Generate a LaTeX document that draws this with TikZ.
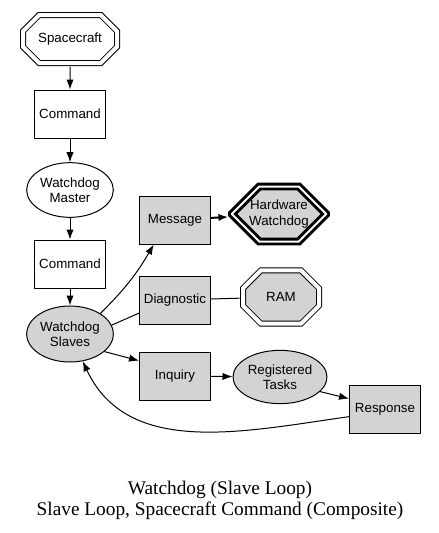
\documentclass[tikz,border=0pt]{standalone}
\usepackage{fontspec}
\setmainfont{Liberation Serif}
\newfontfamily\nodefont{Liberation Sans}
\usetikzlibrary{arrows.meta,shapes.misc,shapes.geometric}
\definecolor{gvgray}{HTML}{D3D3D3}
\begin{document}
\begin{tikzpicture}[x=0.75pt, y=-0.75pt, line width=0.75pt,
  >={Latex[length=7.5pt,width=5.5pt]},
  every node/.style={font=\nodefont\fontsize{10}{11.5}\selectfont, align=center, inner sep=0pt},
  box/.style={draw, rectangle, minimum width=53.25pt, minimum height=36pt},
  oval/.style={draw, ellipse, minimum width=65pt, minimum height=41pt},
  octa/.style={draw, chamfered rectangle, double, double distance=3pt}]
\useasboundingbox (0,0) rectangle (439,533);
% left column
\node[octa, minimum width=70.5pt, minimum height=36pt,
  chamfered rectangle xsep=13.5pt, chamfered rectangle ysep=7.5pt] (space) at (70,39) {Spacecraft};
\node[box] (cmdA) at (70,114) {Command};
\node[oval] (master) at (70,190) {Watchdog\\Master};
\node[box] (cmdB) at (70,264) {Command};
\node[oval, fill=gvgray, minimum height=42pt] (slaves) at (70,334) {Watchdog\\Slaves};
% right part
\node[box, fill=gvgray] (message) at (175,220) {Message};
\node[octa, fill=gvgray, line width=2.2pt, double distance=1.5pt,
  minimum width=70.5pt, minimum height=41.25pt,
  chamfered rectangle xsep=18pt, chamfered rectangle ysep=10pt] (hw) at (279,214) {Hardware\\Watchdog};
\node[box, fill=gvgray] (diag) at (175,300) {Diagnostic};
\node[octa, fill=gvgray, minimum width=57pt, minimum height=40pt,
  chamfered rectangle xsep=13.5pt, chamfered rectangle ysep=10pt] (ram) at (281,297) {RAM};
\node[box, fill=gvgray] (inquiry) at (175,376) {Inquiry};
\node[oval, fill=gvgray, minimum width=70.5pt, minimum height=40pt] (tasks) at (280,377) {Registered\\Tasks};
\node[box, fill=gvgray] (response) at (385,409) {Response};
% edges
\draw[->, shorten <=2.25pt] (space) -- (cmdA);
\draw[->] (cmdA) -- (master);
\draw[->] (master) -- (cmdB);
\draw[->] (cmdB) -- (slaves);
\draw[->] (slaves.34) to[out=45, in=240] (message.229);
\draw (slaves.12) -- (diag.200);
\draw[shorten >=2.25pt] (diag) -- (ram);
\draw[->, line width=1.5pt, shorten >=2.95pt] (message) -- (hw);
\draw[->] (slaves.-27) -- (inquiry.157);
\draw[->] (inquiry) -- (tasks);
\draw[->] (tasks.-20) -- (response.164);
\draw[->] (response.192) to[out=188, in=-65] (slaves.-65);
% caption
\node[font=\fontsize{14.5}{15.75}\selectfont] (caption) at (220,500)
  {Watchdog (Slave Loop)\\Slave Loop, Spacecraft Command (Composite)};
\end{tikzpicture}
\end{document}
